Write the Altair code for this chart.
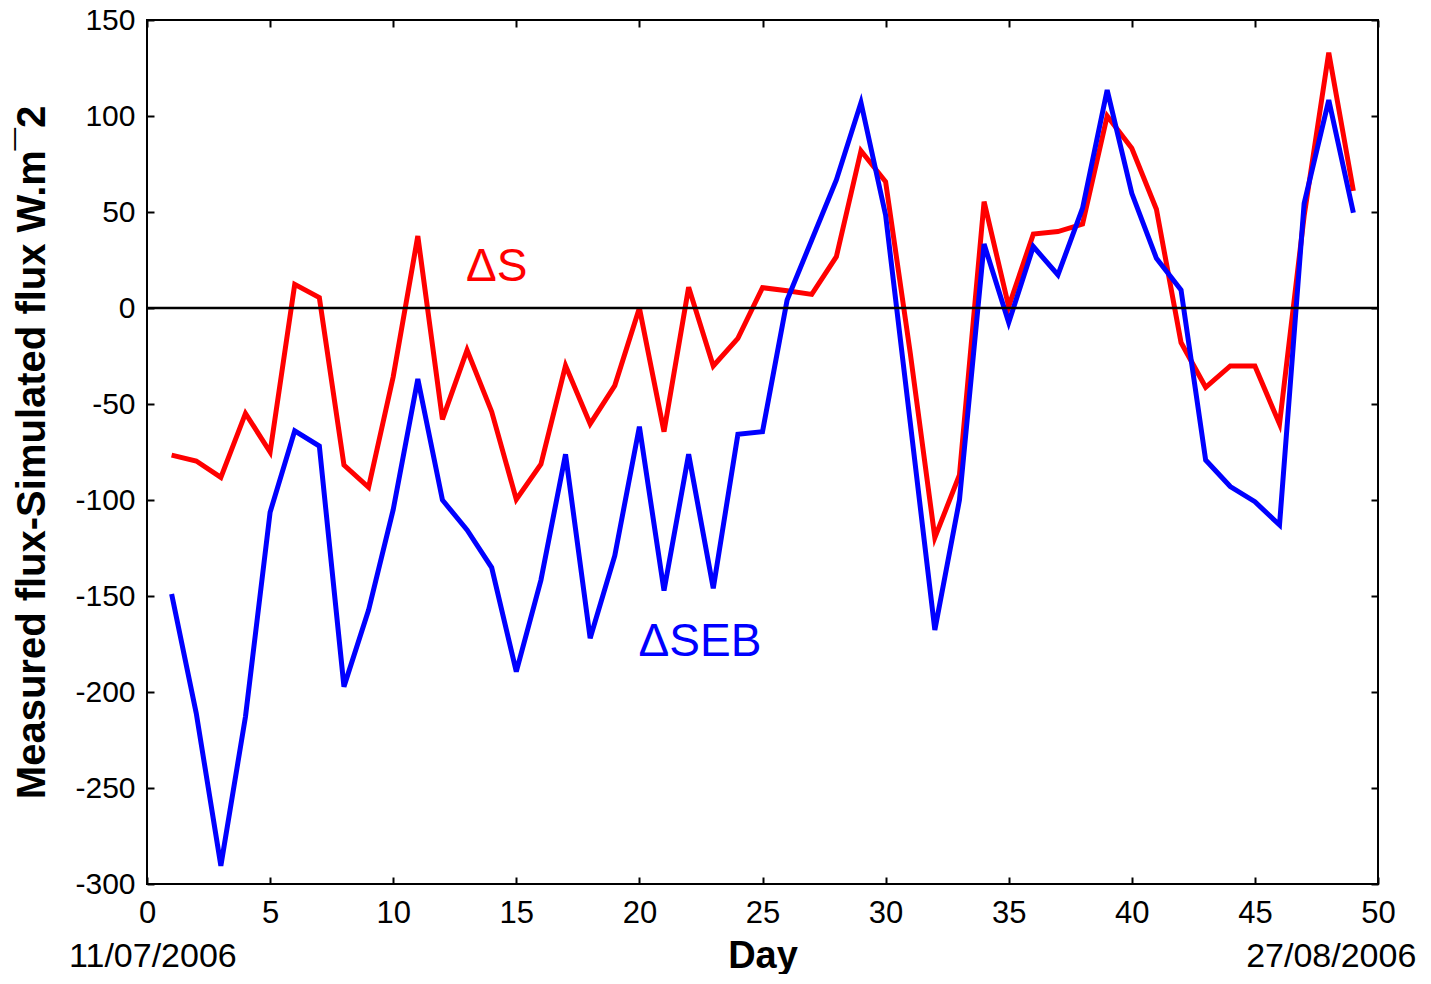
import altair as alt
import pandas as pd

days = list(range(1, 50))
delta_s = [-76.6, -79.7, -88.2, -54.9, -75.0, 12.3, 5.4, -81.8, -93.4, -35.8,
           37.5, -58.0, -21.9, -54.0, -99.7, -81.4, -30.0, -60.4, -40.4, 0.0,
           -64.4, 10.8, -30.2, -15.8, 10.6, 9.0, 7.1, 26.7, 81.9, 65.8,
           -23.3, -119.6, -87.0, 55.4, 0.7, 38.5, 39.8, 43.7, 100.0, 83.2,
           51.4, -18.0, -41.3, -30.2, -30.2, -60.4, 48.0, 133.0, 61.0]
delta_seb = [-149.0, -211.0, -290.5, -212.8, -106.4, -64.0, -71.9, -197.2, -157.3, -105.0,
             -37.0, -100.0, -115.6, -135.2, -189.4, -141.7, -76.2, -172.0, -129.0, -61.8,
             -147.2, -76.2, -146.0, -65.8, -64.4, 4.2, 35.4, 66.7, 107.0, 48.4,
             -59.5, -167.7, -100.0, 33.3, -7.6, 32.0, 17.2, 52.0, 113.5, 59.7,
             25.9, 9.4, -79.2, -93.0, -100.9, -113.0, 54.5, 108.3, 49.6]
series_names = ["ΔS", "ΔSEB"]
series_colors = ["#ff0000", "#0000ff"]
x_ticks = list(range(0, 51, 5))
y_ticks = list(range(-300, 151, 50))

# annotation texts (positions in data units)
label_text = ["ΔS", "ΔSEB"]
label_x = [14.2, 22.46]
label_y = [21.4, -174.0]
date_text = ["11/07/2006", "27/08/2006"]
date_x = [0.24, 48.1]
date_y = [-338.0, -338.0]

FONT = "Liberation Sans"

df = pd.DataFrame({
    "day": days * 2,
    "value": delta_s + delta_seb,
    "series": [series_names[0]] * len(days) + [series_names[1]] * len(days),
})
labels_df = pd.DataFrame({"x": label_x, "y": label_y, "text": label_text, "series": series_names})
dates_df = pd.DataFrame({"x": date_x, "y": date_y, "text": date_text})
zero_df = pd.DataFrame({"y": [0]})

xs = alt.Scale(domain=[0, 50], nice=False, zero=False)
ys = alt.Scale(domain=[-300, 150], nice=False)
cs = alt.Scale(domain=series_names, range=series_colors)

lines = alt.Chart(df).mark_line(strokeWidth=5).encode(
    x=alt.X("day:Q", scale=xs, axis=alt.Axis(
        orient="bottom", values=x_ticks, title="Day", ticks=False, domain=False, grid=False,
        labelExpr="'' + datum.value", labelFlush=False,
        labelFontSize=31, labelFont=FONT, labelPadding=14, labelColor="black",
        titleFontSize=38, titleFont=FONT, titleFontWeight="bold", titlePadding=9, titleColor="black")),
    y=alt.Y("value:Q", scale=ys, axis=alt.Axis(
        orient="left", values=y_ticks, title="Measured flux-Simulated flux W.m¯2",
        ticks=False, domain=False, grid=False,
        labelExpr="'' + datum.value",
        labelFontSize=30, labelFont=FONT, labelPadding=12, labelColor="black",
        titleFontSize=40, titleFont=FONT, titleFontWeight="bold", titlePadding=22, titleColor="black")),
    color=alt.Color("series:N", scale=cs, legend=None),
)

def tick_layer(xorient, yorient):
    return alt.Chart(df).mark_point(opacity=0).encode(
        x=alt.X("day:Q", scale=xs, axis=alt.Axis(
            orient=xorient, values=x_ticks, title=None, labels=False, domain=False, grid=False,
            ticks=True, tickSize=7, offset=-7, tickColor="black", tickWidth=2)),
        y=alt.Y("value:Q", scale=ys, axis=alt.Axis(
            orient=yorient, values=y_ticks, title=None, labels=False, domain=False, grid=False,
            ticks=True, tickSize=7, offset=-7, tickColor="black", tickWidth=2)),
    )

ticks_bl = tick_layer("bottom", "left")
ticks_tr = tick_layer("top", "right")

zero = alt.Chart(zero_df).mark_rule(color="black", strokeWidth=2.5).encode(
    y=alt.Y("y:Q", scale=ys, axis=None)
)

labels = alt.Chart(labels_df).mark_text(fontSize=46, font=FONT, align="center", baseline="middle").encode(
    x=alt.X("x:Q", scale=xs, axis=None),
    y=alt.Y("y:Q", scale=ys, axis=None),
    text="text:N",
    color=alt.Color("series:N", scale=cs, legend=None),
)

dates = alt.Chart(dates_df).mark_text(fontSize=34, font=FONT, align="center", baseline="middle",
                                      color="black", clip=False).encode(
    x=alt.X("x:Q", scale=xs, axis=None),
    y=alt.Y("y:Q", scale=ys, axis=None),
    text="text:N",
)

chart = alt.layer(lines, ticks_bl, ticks_tr, zero, labels, dates).resolve_axis(
    x="independent", y="independent"
).properties(
    width=1231, height=864,
    autosize=alt.AutoSizeParams(type="none"),
    padding={"left": 139, "top": 12, "right": 45, "bottom": 90},
).configure_view(stroke="black", strokeWidth=2)

chart.save("out.html", embed_options={"renderer": "svg", "actions": False})
